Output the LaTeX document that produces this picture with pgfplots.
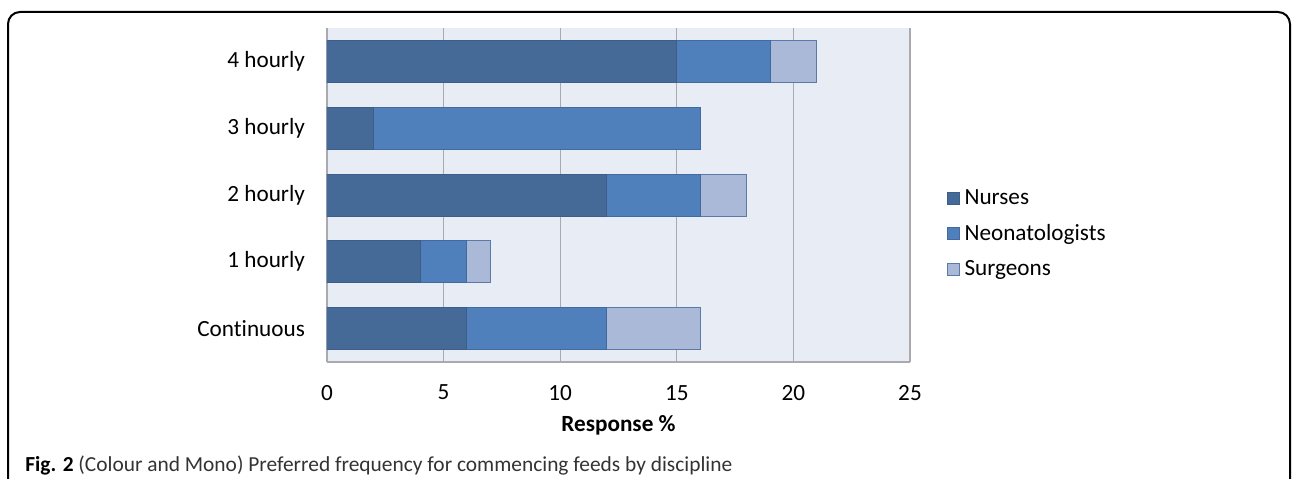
\documentclass[border=0pt]{standalone}
\usepackage{fontspec}
\setmainfont{Carlito}[Ligatures=CommonOff]
\usepackage{pgfplots}
\pgfplotsset{compat=1.18}

\definecolor{nurse}{RGB}{70,106,152}
\definecolor{nurseedge}{RGB}{62,94,138}
\definecolor{neo}{RGB}{80,128,188}
\definecolor{neoedge}{RGB}{66,105,160}
\definecolor{surg}{RGB}{170,185,215}
\definecolor{surgedge}{RGB}{92,122,168}
\definecolor{bgblue}{RGB}{232,237,245}
\definecolor{gridgray}{RGB}{168,170,174}

\newcommand{\lblfont}{\fontsize{11.6}{14}\selectfont}

\begin{document}
\begin{tikzpicture}
\useasboundingbox (0,0) rectangle (646pt,239pt);
% rounded frame, open at the bottom
\draw[line width=1pt, rounded corners=6pt] (4pt,-12pt) -- (4pt,233pt) -- (645pt,233pt) -- (645pt,-12pt);

\begin{axis}[
  at={(163.5pt,58pt)}, anchor=south west,
  scale only axis, width=291.5pt, height=167pt,
  xbar stacked, bar width=21pt,
  xmin=0, xmax=25, ymin=-0.5, ymax=4.5,
  xtick={0,5,...,25}, ytick={0,...,4},
  yticklabels={Continuous,1 hourly,2 hourly,3 hourly,4 hourly},
  /pgf/number format/assume math mode=true,
  axis x line*=bottom, axis y line*=left,
  axis line style={draw=gridgray, line width=0.6pt, -},
  xmajorgrids, grid style={gridgray, line width=0.6pt},
  major tick length=0pt, tick style={draw=none},
  axis background/.style={fill=bgblue},
  ticklabel style={font=\lblfont},
  xticklabel style={yshift=-8pt},
  yticklabel style={xshift=-7.5pt},
  xlabel={\textbf{Response \%}},
  xlabel style={at={(axis description cs:0.5,-0.189)}, anchor=center, font=\lblfont},
  legend style={at={(1.062,0.53)}, anchor=north west, draw=none, fill=none,
    font=\lblfont, row sep=4.5pt, inner sep=0pt,
    /tikz/every odd column/.append style={column sep=0.5pt}},
  legend cell align=left,
  legend image code/.code={\draw[#1] (0pt,-3pt) rectangle (6pt,3pt);},
]
\addplot[fill=nurse, draw=nurseedge, line width=0.5pt] coordinates {(6,0) (4,1) (12,2) (2,3) (15,4)};
\addplot[fill=neo, draw=neoedge, line width=0.5pt] coordinates {(6,0) (2,1) (4,2) (14,3) (4,4)};
\addplot[fill=surg, draw=surgedge, line width=0.5pt] coordinates {(4,0) (1,1) (2,2) (0,3) (2,4)};
\legend{Nurses,Neonatologists,Surgeons}
\end{axis}

\node[anchor=base west, inner sep=0pt, font=\fontsize{10.7}{12}\selectfont] at (12.5pt,3.5pt)
  {\textbf{Fig. 2} \color{black!80}(Colour and Mono) Preferred frequency for commencing feeds by discipline};
\end{tikzpicture}
\end{document}
